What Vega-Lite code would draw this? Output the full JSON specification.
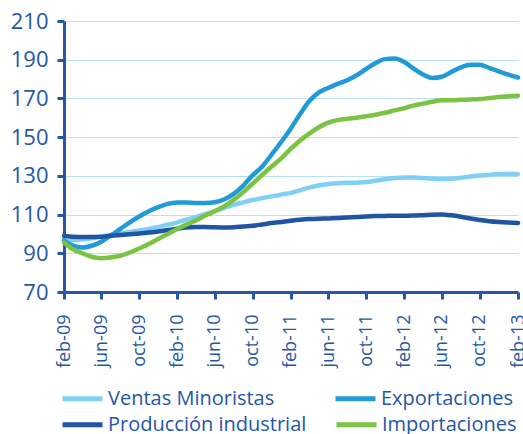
{
  "$schema": "https://vega.github.io/schema/vega-lite/v6.json",
  "width": 454,
  "height": 271,
  "autosize": {"type": "none"},
  "padding": {"left": 64, "top": 21, "right": 5, "bottom": 142},
  "background": "white",
  "config": {"view": {"stroke": null}, "font": "Open Sans"},
  "data": {
    "values": [
      {"fecha": "2009-02-01", "Ventas Minoristas": 97, "Producción industrial": 99, "Exportaciones": 96.5, "Importaciones": 95.6},
      {"fecha": "2009-03-01", "Ventas Minoristas": 96.8, "Producción industrial": 98.6, "Exportaciones": 93.9, "Importaciones": 92.2},
      {"fecha": "2009-04-01", "Ventas Minoristas": 97.2, "Producción industrial": 98.4, "Exportaciones": 93, "Importaciones": 90},
      {"fecha": "2009-05-01", "Ventas Minoristas": 97.8, "Producción industrial": 98.4, "Exportaciones": 93.9, "Importaciones": 88.2},
      {"fecha": "2009-06-01", "Ventas Minoristas": 98.6, "Producción industrial": 98.6, "Exportaciones": 96, "Importaciones": 87.5},
      {"fecha": "2009-07-01", "Ventas Minoristas": 99.5, "Producción industrial": 99, "Exportaciones": 99.1, "Importaciones": 87.9},
      {"fecha": "2009-08-01", "Ventas Minoristas": 100.3, "Producción industrial": 99.4, "Exportaciones": 102.6, "Importaciones": 88.7},
      {"fecha": "2009-09-01", "Ventas Minoristas": 101, "Producción industrial": 99.8, "Exportaciones": 106, "Importaciones": 90.4},
      {"fecha": "2009-10-01", "Ventas Minoristas": 101.8, "Producción industrial": 100.2, "Exportaciones": 109, "Importaciones": 92.5},
      {"fecha": "2009-11-01", "Ventas Minoristas": 102.6, "Producción industrial": 100.7, "Exportaciones": 111.7, "Importaciones": 94.8},
      {"fecha": "2009-12-01", "Ventas Minoristas": 103.6, "Producción industrial": 101.3, "Exportaciones": 113.8, "Importaciones": 97.4},
      {"fecha": "2010-01-01", "Ventas Minoristas": 104.8, "Producción industrial": 102, "Exportaciones": 115.5, "Importaciones": 100},
      {"fecha": "2010-02-01", "Ventas Minoristas": 106, "Producción industrial": 102.7, "Exportaciones": 116.2, "Importaciones": 102.6},
      {"fecha": "2010-03-01", "Ventas Minoristas": 107.4, "Producción industrial": 103.3, "Exportaciones": 116.3, "Importaciones": 104.8},
      {"fecha": "2010-04-01", "Ventas Minoristas": 108.7, "Producción industrial": 103.6, "Exportaciones": 116, "Importaciones": 106.9},
      {"fecha": "2010-05-01", "Ventas Minoristas": 110.2, "Producción industrial": 103.6, "Exportaciones": 116, "Importaciones": 109.5},
      {"fecha": "2010-06-01", "Ventas Minoristas": 111.8, "Producción industrial": 103.4, "Exportaciones": 116.4, "Importaciones": 111.7},
      {"fecha": "2010-07-01", "Ventas Minoristas": 113.4, "Producción industrial": 103.3, "Exportaciones": 117.8, "Importaciones": 114.2},
      {"fecha": "2010-08-01", "Ventas Minoristas": 115, "Producción industrial": 103.4, "Exportaciones": 120.7, "Importaciones": 117.6},
      {"fecha": "2010-09-01", "Ventas Minoristas": 116.3, "Producción industrial": 103.8, "Exportaciones": 125, "Importaciones": 121.6},
      {"fecha": "2010-10-01", "Ventas Minoristas": 117.5, "Producción industrial": 104.2, "Exportaciones": 130.3, "Importaciones": 126},
      {"fecha": "2010-11-01", "Ventas Minoristas": 118.5, "Producción industrial": 104.9, "Exportaciones": 134.8, "Importaciones": 130.5},
      {"fecha": "2010-12-01", "Ventas Minoristas": 119.4, "Producción industrial": 105.6, "Exportaciones": 141, "Importaciones": 134.8},
      {"fecha": "2011-01-01", "Ventas Minoristas": 120.3, "Producción industrial": 106.2, "Exportaciones": 147.5, "Importaciones": 139},
      {"fecha": "2011-02-01", "Ventas Minoristas": 121.2, "Producción industrial": 106.8, "Exportaciones": 154.5, "Importaciones": 144},
      {"fecha": "2011-03-01", "Ventas Minoristas": 122.5, "Producción industrial": 107.3, "Exportaciones": 161.5, "Importaciones": 148},
      {"fecha": "2011-04-01", "Ventas Minoristas": 123.9, "Producción industrial": 107.7, "Exportaciones": 168.5, "Importaciones": 151.8},
      {"fecha": "2011-05-01", "Ventas Minoristas": 125, "Producción industrial": 107.9, "Exportaciones": 173, "Importaciones": 155},
      {"fecha": "2011-06-01", "Ventas Minoristas": 125.8, "Producción industrial": 108, "Exportaciones": 175.4, "Importaciones": 157.5},
      {"fecha": "2011-07-01", "Ventas Minoristas": 126.2, "Producción industrial": 108.2, "Exportaciones": 177.5, "Importaciones": 158.8},
      {"fecha": "2011-08-01", "Ventas Minoristas": 126.4, "Producción industrial": 108.5, "Exportaciones": 179.4, "Importaciones": 159.5},
      {"fecha": "2011-09-01", "Ventas Minoristas": 126.5, "Producción industrial": 108.7, "Exportaciones": 182, "Importaciones": 160},
      {"fecha": "2011-10-01", "Ventas Minoristas": 126.8, "Producción industrial": 109, "Exportaciones": 185.2, "Importaciones": 160.8},
      {"fecha": "2011-11-01", "Ventas Minoristas": 127.5, "Producción industrial": 109.2, "Exportaciones": 188.3, "Importaciones": 161.6},
      {"fecha": "2011-12-01", "Ventas Minoristas": 128.3, "Producción industrial": 109.3, "Exportaciones": 190.3, "Importaciones": 162.6},
      {"fecha": "2012-01-01", "Ventas Minoristas": 128.9, "Producción industrial": 109.4, "Exportaciones": 190.6, "Importaciones": 163.8},
      {"fecha": "2012-02-01", "Ventas Minoristas": 129.1, "Producción industrial": 109.4, "Exportaciones": 188.8, "Importaciones": 165},
      {"fecha": "2012-03-01", "Ventas Minoristas": 129.1, "Producción industrial": 109.5, "Exportaciones": 185.5, "Importaciones": 166.3},
      {"fecha": "2012-04-01", "Ventas Minoristas": 128.9, "Producción industrial": 109.7, "Exportaciones": 182.4, "Importaciones": 167.3},
      {"fecha": "2012-05-01", "Ventas Minoristas": 128.6, "Producción industrial": 109.9, "Exportaciones": 180.6, "Importaciones": 168.3},
      {"fecha": "2012-06-01", "Ventas Minoristas": 128.4, "Producción industrial": 110, "Exportaciones": 181.2, "Importaciones": 169},
      {"fecha": "2012-07-01", "Ventas Minoristas": 128.5, "Producción industrial": 109.6, "Exportaciones": 183.6, "Importaciones": 169.1},
      {"fecha": "2012-08-01", "Ventas Minoristas": 129, "Producción industrial": 108.9, "Exportaciones": 186, "Importaciones": 169.3},
      {"fecha": "2012-09-01", "Ventas Minoristas": 129.7, "Producción industrial": 108, "Exportaciones": 187.4, "Importaciones": 169.5},
      {"fecha": "2012-10-01", "Ventas Minoristas": 130.2, "Producción industrial": 107.2, "Exportaciones": 187.4, "Importaciones": 169.7},
      {"fecha": "2012-11-01", "Ventas Minoristas": 130.6, "Producción industrial": 106.6, "Exportaciones": 185.7, "Importaciones": 170.2},
      {"fecha": "2012-12-01", "Ventas Minoristas": 130.9, "Producción industrial": 106.2, "Exportaciones": 184, "Importaciones": 170.7},
      {"fecha": "2013-01-01", "Ventas Minoristas": 131, "Producción industrial": 105.9, "Exportaciones": 182.3, "Importaciones": 171.1},
      {"fecha": "2013-02-01", "Ventas Minoristas": 131, "Producción industrial": 105.7, "Exportaciones": 180.8, "Importaciones": 171.4}
    ]
  },
  "transform": [
    {"fold": ["Ventas Minoristas", "Producción industrial", "Exportaciones", "Importaciones"], "as": ["serie", "valor"]}
  ],
  "encoding": {
    "x": {
      "field": "fecha",
      "type": "temporal",
      "scale": {
        "type": "utc",
        "domain": [
          {"year": 2009, "month": 2, "date": 1, "utc": true},
          {"year": 2013, "month": 2, "date": 1, "utc": true}
        ]
      },
      "axis": {
        "title": null,
        "grid": false,
        "values": [
          {"year": 2009, "month": 2, "date": 1, "utc": true},
          {"year": 2009, "month": 6, "date": 1, "utc": true},
          {"year": 2009, "month": 10, "date": 1, "utc": true},
          {"year": 2010, "month": 2, "date": 1, "utc": true},
          {"year": 2010, "month": 6, "date": 1, "utc": true},
          {"year": 2010, "month": 10, "date": 1, "utc": true},
          {"year": 2011, "month": 2, "date": 1, "utc": true},
          {"year": 2011, "month": 6, "date": 1, "utc": true},
          {"year": 2011, "month": 10, "date": 1, "utc": true},
          {"year": 2012, "month": 2, "date": 1, "utc": true},
          {"year": 2012, "month": 6, "date": 1, "utc": true},
          {"year": 2012, "month": 10, "date": 1, "utc": true},
          {"year": 2013, "month": 2, "date": 1, "utc": true}
        ],
        "labelExpr": "lower(utcFormat(datum.value, '%b-%y'))",
        "labelAngle": -90,
        "labelAlign": "right",
        "labelBaseline": "middle",
        "labelFontSize": 18,
        "labelColor": "#2457a5",
        "labelPadding": 15,
        "labelFlush": false,
        "labelOverlap": false,
        "tickColor": "#2457a5",
        "tickWidth": 3,
        "tickSize": 7,
        "domainColor": "#2457a5",
        "domainWidth": 3
      }
    },
    "y": {
      "field": "valor",
      "type": "quantitative",
      "scale": {"domain": [70, 210], "nice": false, "zero": false},
      "axis": {
        "title": null,
        "values": [70, 90, 110, 130, 150, 170, 190, 210],
        "labelFontSize": 22,
        "labelColor": "#2457a5",
        "labelPadding": 9,
        "tickColor": "#2457a5",
        "tickWidth": 3,
        "tickSize": 7,
        "domainColor": "#2457a5",
        "domainWidth": 3,
        "gridColor": "#b7e1f4",
        "gridWidth": 1.2
      }
    }
  },
  "layer": [
    {
      "transform": [{"filter": {"field": "serie", "oneOf": ["Ventas Minoristas", "Exportaciones"]}}],
      "mark": {"type": "line", "interpolate": "monotone", "strokeWidth": 4.5, "strokeCap": "round"},
      "encoding": {
        "color": {
          "field": "serie",
          "type": "nominal",
          "scale": {"domain": ["Ventas Minoristas", "Exportaciones"], "range": ["#7fd0f4", "#229ad7"]},
          "legend": {
            "title": null,
            "orient": "none",
            "direction": "horizontal",
            "legendX": -4,
            "legendY": 355,
            "columns": 2,
            "padding": 0,
            "symbolType": "stroke",
            "symbolSize": 1600,
            "symbolStrokeWidth": 5,
            "labelFontSize": 20,
            "labelLimit": 0,
            "labelColor": "#2457a5",
            "labelOffset": 3,
            "columnPadding": 50
          }
        }
      }
    },
    {
      "transform": [{"filter": {"field": "serie", "oneOf": ["Producción industrial", "Importaciones"]}}],
      "mark": {"type": "line", "interpolate": "monotone", "strokeWidth": 4.5, "strokeCap": "round"},
      "encoding": {
        "color": {
          "field": "serie",
          "type": "nominal",
          "scale": {"domain": ["Producción industrial", "Importaciones"], "range": ["#2154a3", "#7cc243"]},
          "legend": {
            "title": null,
            "orient": "none",
            "direction": "horizontal",
            "legendX": -4,
            "legendY": 381,
            "columns": 2,
            "padding": 0,
            "symbolType": "stroke",
            "symbolSize": 1600,
            "symbolStrokeWidth": 5,
            "labelFontSize": 20,
            "labelLimit": 0,
            "labelColor": "#2457a5",
            "labelOffset": 3,
            "columnPadding": 19
          }
        }
      }
    }
  ],
  "resolve": {"scale": {"color": "independent"}}
}
